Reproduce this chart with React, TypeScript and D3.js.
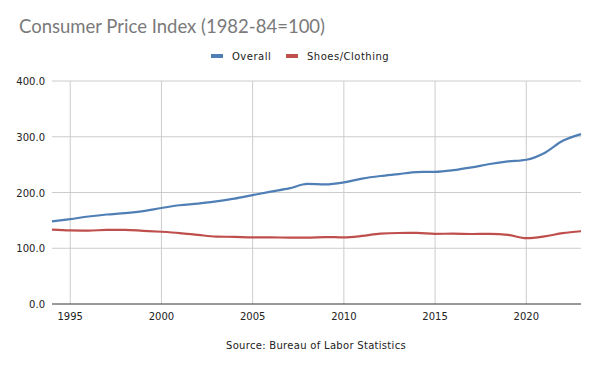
import { useEffect, useRef } from "react";
import * as d3 from "d3";

// data (annual averages)
const years = [
  1994, 1995, 1996, 1997, 1998, 1999, 2000, 2001, 2002, 2003, 2004, 2005, 2006,
  2007, 2008, 2009, 2010, 2011, 2012, 2013, 2014, 2015, 2016, 2017, 2018, 2019,
  2020, 2021, 2022, 2023,
];
const overall = [
  148.2, 152.4, 156.9, 160.5, 163.0, 166.6, 172.2, 177.1, 179.9, 184.0, 188.9,
  195.3, 201.6, 207.3, 215.3, 214.5, 218.1, 224.9, 229.6, 233.0, 236.7, 237.0,
  240.0, 245.1, 251.1, 255.7, 258.8, 271.0, 292.7, 304.7,
];
const clothing = [
  133.4, 132.0, 131.7, 132.9, 133.0, 131.3, 129.6, 127.3, 124.0, 120.9, 120.4,
  119.5, 119.5, 119.0, 118.9, 120.1, 119.5, 122.1, 126.3, 127.4, 127.5, 125.9,
  126.2, 125.6, 125.7, 124.0, 118.1, 121.2, 127.0, 130.5,
];
const yTicks = [0, 100, 200, 300, 400];
const xTicks = [1995, 2000, 2005, 2010, 2015, 2020];
const seriesNames = ["Overall", "Shoes/Clothing"];
const COLORS = ["#4f7fb5", "#bf4f4c"];

export default function App() {
  const ref = useRef<SVGSVGElement>(null);

  useEffect(() => {
    if (!ref.current) return;
    const svg = d3.select(ref.current);
    svg.selectAll("*").remove();

    const W = 600;
    const H = 371;
    const m = { top: 81, right: 19, bottom: 67, left: 52 };
    const w = W - m.left - m.right;
    const h = H - m.top - m.bottom;
    const font = "'DejaVu Sans', sans-serif";

    svg.attr("width", W).attr("height", H).style("display", "block");
    svg.append("rect").attr("width", W).attr("height", H).attr("fill", "#fff");

    // title
    svg
      .append("text")
      .attr("x", 19)
      .attr("y", 33)
      .attr("font-family", "Lato, sans-serif")
      .attr("font-size", 18.5)
      .attr("fill", "#7a7a7a")
      .text("Consumer Price Index (1982-84=100)");

    // legend
    const legendX = [211, 286];
    seriesNames.forEach((name, i) => {
      const lg = svg.append("g").attr("transform", `translate(${legendX[i]},56)`);
      lg.append("rect")
        .attr("x", 0)
        .attr("y", -2)
        .attr("width", 12)
        .attr("height", 4)
        .attr("fill", COLORS[i]);
      lg.append("text")
        .attr("x", 21)
        .attr("y", 4)
        .attr("font-family", font)
        .attr("font-size", 10)
        .attr("letter-spacing", 0.5)
        .attr("fill", "#222")
        .text(name);
    });

    const x = d3.scaleLinear().domain([1994, 2023]).range([0, w]);
    const y = d3.scaleLinear().domain([0, 400]).range([h, 0]);

    const g = svg.append("g").attr("transform", `translate(${m.left},${m.top})`);

    // grid
    g.append("g")
      .selectAll("line")
      .data(yTicks.filter((t) => t > 0))
      .join("line")
      .attr("x1", 0)
      .attr("x2", w)
      .attr("y1", (d) => y(d))
      .attr("y2", (d) => y(d))
      .attr("stroke", "#cccccc");
    g.append("g")
      .selectAll("line")
      .data(xTicks)
      .join("line")
      .attr("x1", (d) => x(d))
      .attr("x2", (d) => x(d))
      .attr("y1", 0)
      .attr("y2", h)
      .attr("stroke", "#cccccc");

    // axes labels
    g.append("g")
      .selectAll("text")
      .data(yTicks)
      .join("text")
      .attr("x", -7)
      .attr("y", (d) => y(d) + 4)
      .attr("text-anchor", "end")
      .attr("font-family", font)
      .attr("font-size", 10)
      .attr("fill", "#222")
      .text((d) => d3.format(".1f")(d));
    g.append("g")
      .selectAll("text")
      .data(xTicks)
      .join("text")
      .attr("x", (d) => x(d))
      .attr("y", h + 16)
      .attr("text-anchor", "middle")
      .attr("font-family", font)
      .attr("font-size", 10)
      .attr("fill", "#222")
      .text((d) => String(d));

    // lines
    [overall, clothing].forEach((vals, i) => {
      const line = d3
        .line<number>()
        .x((_, j) => x(years[j]))
        .y((d) => y(d))
        .curve(d3.curveMonotoneX);
      g.append("path")
        .datum(vals)
        .attr("d", line)
        .attr("fill", "none")
        .attr("stroke", COLORS[i])
        .attr("stroke-width", 2.2)
        .attr("stroke-linejoin", "round");
    });

    // baseline
    g.append("line")
      .attr("x1", 0)
      .attr("x2", w)
      .attr("y1", h)
      .attr("y2", h)
      .attr("stroke", "#333");

    // source
    svg
      .append("text")
      .attr("x", 316)
      .attr("y", 349)
      .attr("text-anchor", "middle")
      .attr("font-family", font)
      .attr("font-size", 10)
      .attr("letter-spacing", 0.3)
      .attr("fill", "#222")
      .text("Source: Bureau of Labor Statistics");
  }, []);

  return (
    <div style={{ margin: -8 }}>
      <svg ref={ref} />
    </div>
  );
}
